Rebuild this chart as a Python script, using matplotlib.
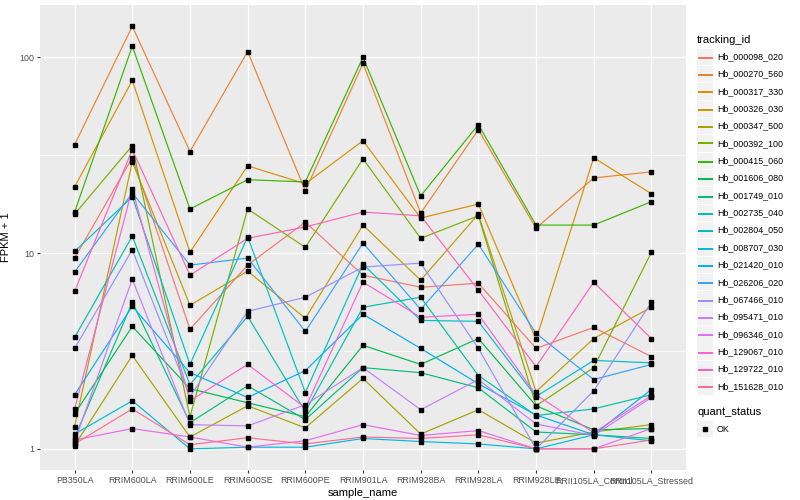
import matplotlib
matplotlib.use("Agg")
import matplotlib.pyplot as plt
from matplotlib.patches import Rectangle
from matplotlib.lines import Line2D
from matplotlib.ticker import FixedLocator, NullFormatter

plt.rcParams['font.family'] = ['Liberation Sans', 'DejaVu Sans']

samples = ["PB350LA", "RRIM600LA", "RRIM600LE", "RRIM600SE", "RRIM600PE",
           "RRIM901LA", "RRIM928BA", "RRIM928LA", "RRIM928LE",
           "RRII105LA_Control", "RRII105LA_Stressed"]

tracking_ids = ["Hb_000098_020", "Hb_000270_560", "Hb_000317_330", "Hb_000326_030",
                "Hb_000347_500", "Hb_000392_100", "Hb_000415_060", "Hb_001606_080",
                "Hb_001749_010", "Hb_002735_040", "Hb_002804_050", "Hb_008707_030",
                "Hb_021420_010", "Hb_026206_020", "Hb_067466_010", "Hb_095471_010",
                "Hb_096346_010", "Hb_129067_010", "Hb_129722_010", "Hb_151628_010"]

colors = ["#F8766D", "#EA8331", "#D89000", "#C09B00", "#A3A500", "#7CAE00", "#39B600",
          "#00BB4E", "#00BF7D", "#00C1A3", "#00BFC4", "#00BAE0", "#00B0F6", "#35A2FF",
          "#9590FF", "#C77CFF", "#E76BF3", "#FA62DB", "#FF62BC", "#FF6C91"]

# FPKM + 1 values per sample (order of `samples`)
hb_000098_020 = [9.43, 30.7, 4.08, 8.68, 14.4, 7.71, 6.69, 7.02, 3.26, 4.17, 2.96]
hb_000270_560 = [35.8, 144, 33.0, 107, 20.8, 93.1, 16.0, 42.7, 13.4, 24.2, 26.0]
hb_000317_330 = [21.8, 76.2, 10.1, 27.9, 22.6, 37.5, 15.1, 17.8, 3.62, 30.7, 20.1]
hb_000326_030 = [1.30, 29.3, 5.41, 8.09, 4.64, 13.9, 7.27, 15.8, 1.96, 3.66, 5.29]
hb_000347_500 = [1.04, 3.00, 1.15, 1.66, 1.28, 2.29, 1.19, 1.585, 1.07, 1.22, 1.33]
hb_000392_100 = [15.8, 35.4, 1.46, 16.8, 10.7, 30.3, 11.9, 15.5, 1.66, 2.60, 10.1]
hb_000415_060 = [16.2, 114, 16.8, 23.7, 23.1, 100, 19.6, 45.3, 13.9, 13.9, 18.3]
hb_001606_080 = [1.51, 4.22, 2.03, 1.72, 1.46, 3.38, 2.70, 3.66, 1.66, 1.25, 1.27]
hb_001749_010 = [1.14, 5.61, 1.36, 2.10, 1.41, 2.60, 2.45, 2.05, 1.22, 1.18, 1.13]
hb_002735_040 = [3.71, 12.2, 2.13, 4.75, 1.55, 5.29, 5.95, 2.37, 1.48, 1.60, 1.89]
hb_002804_050 = [10.2, 19.4, 2.70, 12.1, 1.94, 8.78, 4.53, 4.48, 1.85, 2.83, 2.75]
hb_008707_030 = [1.19, 1.76, 1.00, 1.02, 1.02, 1.13, 1.09, 1.06, 1.00, 1.18, 1.10]
hb_021420_010 = [1.89, 5.35, 2.45, 1.83, 2.51, 4.87, 3.26, 2.15, 1.49, 1.18, 2.01]
hb_026206_020 = [8.00, 20.3, 8.68, 9.43, 3.98, 11.25, 5.16, 11.1, 3.89, 2.26, 2.70]
hb_067466_010 = [3.26, 10.4, 1.85, 5.04, 5.95, 8.48, 8.89, 3.26, 1.00, 1.98, 5.61]
hb_095471_010 = [1.09, 7.36, 1.33, 1.31, 1.68, 2.60, 1.585, 2.26, 1.34, 1.17, 1.83]
hb_096346_010 = [1.11, 1.27, 1.15, 1.02, 1.10, 1.33, 1.17, 1.24, 1.00, 1.00, 1.27]
hb_129067_010 = [1.60, 21.3, 1.76, 2.70, 1.62, 7.10, 4.70, 4.87, 1.89, 1.21, 1.87]
hb_129722_010 = [6.38, 33.8, 7.71, 11.9, 13.6, 16.2, 15.5, 6.46, 2.63, 7.10, 3.66]
hb_151628_010 = [1.06, 1.60, 1.05, 1.14, 1.06, 1.15, 1.13, 1.18, 1.00, 1.00, 1.11]

series = [hb_000098_020, hb_000270_560, hb_000317_330, hb_000326_030, hb_000347_500,
          hb_000392_100, hb_000415_060, hb_001606_080, hb_001749_010, hb_002735_040,
          hb_002804_050, hb_008707_030, hb_021420_010, hb_026206_020, hb_067466_010,
          hb_095471_010, hb_096346_010, hb_129067_010, hb_129722_010, hb_151628_010]

W, H = 800, 500
fig = plt.figure(figsize=(8, 5), dpi=100)
ax = fig.add_axes([40 / W, 1 - 470 / H, (686 - 40) / W, (470 - 5) / H])
ax.set_facecolor("#EBEBEB")
for s in ax.spines.values():
    s.set_visible(False)

xs = list(range(len(samples)))
for vals, col in zip(series, colors):
    ax.plot(xs, vals, color=col, lw=0.85, zorder=3)
for vals in series:
    ax.plot(xs, vals, ls="none", marker="s", ms=3.0, color="black", zorder=4)

ax.set_yscale("log")
ax.set_ylim(0.78, 185)
ax.set_xlim(-0.6, len(samples) - 1 + 0.6)
ax.yaxis.set_major_locator(FixedLocator([1, 10, 100]))
ax.yaxis.set_minor_locator(FixedLocator([10 ** 0.5, 10 ** 1.5]))
ax.yaxis.set_minor_formatter(NullFormatter())
ax.set_yticklabels(["1", "10", "100"])
ax.set_xticks(xs)
ax.set_xticklabels(samples)
ax.grid(which="major", color="white", lw=1.0, zorder=0)
ax.grid(which="minor", axis="y", color="white", lw=0.5, zorder=0)
ax.set_axisbelow(True)
ax.tick_params(axis="both", which="major", length=2.2, width=0.8, color="#333333",
               labelsize=6.4, labelcolor="#4D4D4D", pad=2)
ax.tick_params(axis="y", which="minor", length=0)
ax.set_xlabel("sample_name", fontsize=8, labelpad=2)
ax.set_ylabel("FPKM + 1", fontsize=8, labelpad=6)

# legend (manual, ggplot style)
def fx(px):
    return px / W

def fy(py):
    return 1 - py / H

fig.text(fx(697), fy(40), "tracking_id", fontsize=8, va="center", ha="left")
step = 17.35
for i, (tid, col) in enumerate(zip(tracking_ids, colors)):
    yc = 56.7 + i * step
    fig.patches.append(Rectangle((fx(697), fy(yc + 8.2)), 16.4 / W, 16.4 / H,
                                 transform=fig.transFigure, facecolor="#F2F2F2",
                                 edgecolor="none", zorder=1))
    fig.lines.append(Line2D([fx(698.5), fx(712)], [fy(round(yc) + 0.5), fy(round(yc) + 0.5)],
                            transform=fig.transFigure, color=col, lw=1.1, zorder=2,
                            antialiased=False))
    fig.text(fx(717), fy(yc), tid, fontsize=6.4, va="center", ha="left")

fig.text(fx(697), fy(412), "quant_status", fontsize=8, va="center", ha="left")
fig.patches.append(Rectangle((fx(697), fy(429 + 8.2)), 16.4 / W, 16.4 / H,
                             transform=fig.transFigure, facecolor="#F2F2F2",
                             edgecolor="none"))
fig.lines.append(Line2D([fx(705.2)], [fy(429)], transform=fig.transFigure,
                        marker="s", ms=3.0, color="black", ls="none"))
fig.text(fx(717), fy(429), "OK", fontsize=6.4, va="center", ha="left")

fig.savefig("out.png", dpi=100)
